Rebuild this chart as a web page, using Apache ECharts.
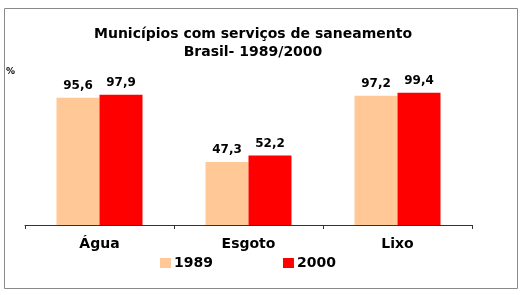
<!DOCTYPE html>
<html>
<head>
<meta charset="utf-8">
<script src="https://cdn.jsdelivr.net/npm/echarts@6/dist/echarts.min.js"></script>
<style>
  html, body { margin: 0; padding: 0; background: #fff; }
  #chart { width: 532px; height: 295px; }
</style>
</head>
<body>
<div id="chart"></div>
<script>
const categories = ['Água', 'Esgoto', 'Lixo'];
const years = ['1989', '2000'];
const values1989 = [95.6, 47.3, 97.2];
const values2000 = [97.9, 52.2, 99.4];

const FONT = '"DejaVu Sans", "Liberation Sans", Arial, sans-serif';
const chart = echarts.init(document.getElementById('chart'));

const labelOpt = {
  show: true,
  position: 'top',
  distance: 6,
  color: '#000',
  fontFamily: FONT,
  fontWeight: 'bold',
  fontSize: 12,
  formatter: (p) => String(p.value).replace('.', ',')
};

chart.setOption({
  backgroundColor: '#fff',
  animation: false,
  title: {
    text: 'Municípios com serviços de saneamento\nBrasil- 1989/2000',
    left: 248,
    textAlign: 'center',
    top: 20,
    textStyle: {
      fontFamily: FONT,
      fontWeight: 'bold',
      fontSize: 14,
      lineHeight: 18,
      color: '#000'
    }
  },
  graphic: [
    {
      type: 'rect',
      shape: { x: 4.5, y: 8.5, width: 513, height: 280 },
      style: { fill: 'none', stroke: '#8a8a8a', lineWidth: 1 },
      silent: true
    },
    {
      type: 'text',
      left: 6,
      top: 67,
      style: { text: '%', fontFamily: FONT, fontSize: 9, fontWeight: 'bold', fill: '#000' }
    }
  ],
  legend: {
    data: years,
    left: 155,
    top: 251,
    itemWidth: 11,
    itemHeight: 10,
    itemGap: 70,
    icon: 'rect',
    textStyle: { fontFamily: FONT, fontWeight: 'bold', fontSize: 14, color: '#000', padding: [0, 0, 0, -2] }
  },
  grid: { left: 25, right: 60, top: 92, bottom: 70 },
  xAxis: {
    type: 'category',
    data: categories,
    axisLine: { lineStyle: { color: '#333', width: 1 } },
    axisTick: { show: true, length: 4, lineStyle: { color: '#333' } },
    axisLabel: {
      margin: 12,
      color: '#000',
      fontFamily: FONT,
      fontWeight: 'bold',
      fontSize: 14
    }
  },
  yAxis: {
    type: 'value',
    min: 0,
    max: 100,
    show: false,
    splitLine: { show: false }
  },
  series: [
    {
      name: '1989',
      type: 'bar',
      data: values1989,
      barWidth: 43,
      barGap: '0%',
      itemStyle: { color: '#ffc896' },
      label: labelOpt
    },
    {
      name: '2000',
      type: 'bar',
      data: values2000,
      barWidth: 43,
      barGap: '0%',
      itemStyle: { color: '#ff0000' },
      label: labelOpt
    }
  ]
});
</script>
</body>
</html>
